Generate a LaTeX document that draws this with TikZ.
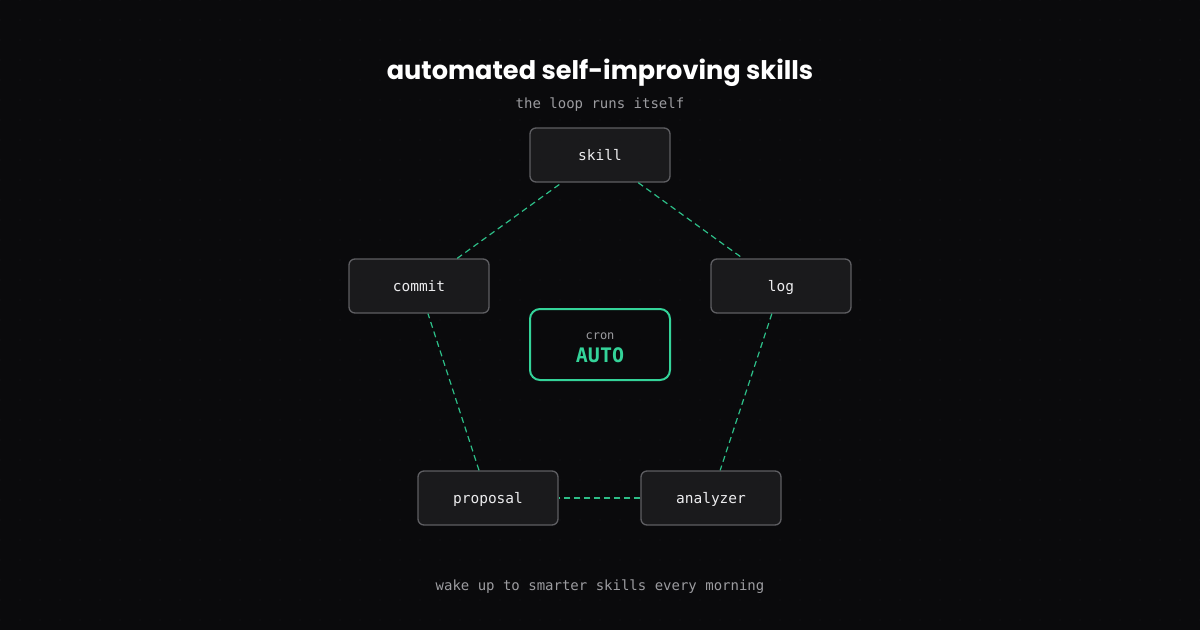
\documentclass[tikz,border=0pt]{standalone}
\usepackage{fontspec}
\setmainfont{Poppins}
\setmonofont{DejaVu Sans Mono}
\newfontfamily\titlefont{Poppins}
\definecolor{bgc}{HTML}{0A0A0C}
\definecolor{dotc}{HTML}{1A1A1E}
\definecolor{boxfill}{HTML}{1A1A1C}
\definecolor{boxline}{HTML}{5E5E62}
\definecolor{accent}{HTML}{34D399}
\definecolor{edgec}{HTML}{2DBE88}
\definecolor{labelc}{HTML}{ECECEE}
\definecolor{mutedc}{HTML}{9C9CA0}
\begin{document}
\begin{tikzpicture}[x=1pt,y=-1pt,
  stagebox/.style={draw=boxline,line width=1.3pt,fill=boxfill,rounded corners=6pt,
    minimum width=140pt,minimum height=54pt,inner sep=0pt,text height=10.5pt,text depth=0pt,
    font=\ttfamily\fontsize{14.5}{16}\selectfont,text=labelc},
  autobox/.style={draw=accent,line width=2pt,fill=bgc,rounded corners=10pt,
    minimum width=140pt,minimum height=71pt,inner sep=0pt},
  flow/.style={draw=edgec,line width=1.2pt,dash pattern=on 6pt off 4pt},
  muted/.style={text=mutedc,font=\ttfamily\fontsize{14}{16}\selectfont}
]
\fill[bgc] (0,0) rectangle (1200,630);
\useasboundingbox (0,0) rectangle (1200,630);
\foreach \i in {0,...,60}{
  \foreach \j in {0,...,31}{
    \fill[dotc] (\i*20,\j*20) circle (0.7pt);
  }
}
\node[text=white,font=\titlefont\bfseries\fontsize{25.6}{30}\selectfont] (title) at (600,73) {automated self-improving skills};
\node[muted] (sub) at (600,105) {the loop runs itself};

\node[stagebox] (skill) at (600,155) {skill};
\node[stagebox] (commit) at (419,286) {commit};
\node[stagebox] (log) at (781,286) {log};
\node[stagebox] (proposal) at (488,498) {proposal};
\node[stagebox] (analyzer) at (711,498) {analyzer};

\node[autobox] (auto) at (600,344.5) {};
\node[text=mutedc,font=\ttfamily\fontsize{12}{14}\selectfont] (cron) at (600,336) {cron};
\node[text=accent,font=\ttfamily\bfseries\fontsize{20}{22}\selectfont] (autotxt) at (600,355) {AUTO};

\draw[flow] (skill) -- (log);
\draw[flow] (log) -- (analyzer);
\draw[flow] (analyzer) -- (proposal);
\draw[flow] (proposal) -- (commit);
\draw[flow] (commit) -- (skill);

\node[muted] (foot) at (600,587) {wake up to smarter skills every morning};
\end{tikzpicture}
\end{document}
